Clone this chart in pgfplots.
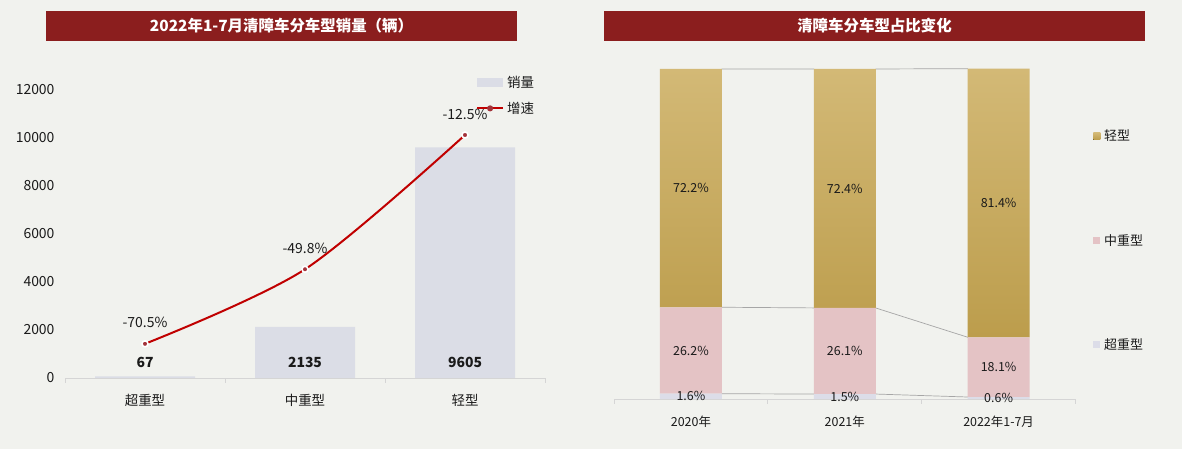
\documentclass[border=0pt]{standalone}
\usepackage{fontspec}
\setmainfont{Noto Sans CJK SC}
\usepackage{pgfplots}
\pgfplotsset{compat=1.18}
\usepackage{pgfplotstable}

\definecolor{bg}{HTML}{F1F2EE}
\definecolor{titlered}{HTML}{8B1E1E}
\definecolor{salesbar}{HTML}{DBDDE6}
\definecolor{growthred}{HTML}{C00000}
\definecolor{dotred}{HTML}{A3333A}
\definecolor{goldtop}{HTML}{D3B976}
\definecolor{goldbot}{HTML}{BC9D4C}
\definecolor{midpink}{HTML}{E4C3C5}
\definecolor{heavylav}{HTML}{DCDDE8}
\definecolor{axisgray}{HTML}{D5D5D5}
\definecolor{labeltext}{HTML}{1A1A1A}
\definecolor{linkgray}{HTML}{A6A6A6}

% 2022 Jan-Jul sales by segment (units)
\pgfplotstableread{
idx v
0 67
1 2135
2 9605
}\salestable

% year-on-year growth (%)
\pgfplotstableread{
idx g
0 -70.5
1 -49.8
2 -12.5
}\growthtable

% segment shares (%)
\pgfplotstableread{
idx super mid light
0 1.6 26.2 72.2
1 1.5 26.1 72.4
2 0.6 18.1 81.4
}\sharetable

\pgfplotsset{
  sqlegend/.style={legend image code/.code={\fill[##1] (0bp,-3.5bp) rectangle (7bp,3.5bp);}},
}

\begin{document}
\begin{tikzpicture}[x=1bp,y=1bp]
\fill[bg] (0,0) rectangle (1182,449);

% ---------- titles ----------
\node[fill=titlered, minimum width=471bp, minimum height=30bp, inner sep=0pt,
      text=white, font=\bfseries\fontsize{15.5}{18}\selectfont]
      at (281.5,423) {2022年1-7月清障车分车型销量（辆）};
\node[fill=titlered, minimum width=541bp, minimum height=30bp, inner sep=0pt,
      text=white, font=\bfseries\fontsize{15.5}{18}\selectfont]
      at (874.5,423) {清障车分车型占比变化};

% ---------- left: sales bars ----------
\begin{axis}[
  at={(65bp,71bp)}, anchor=south west, scale only axis,
  width=480bp, height=288bp,
  xmin=-0.5, xmax=2.5, ymin=0, ymax=12000,
  ybar, bar width=0.625,
  axis x line=bottom, axis y line=left, axis line style={-},
  x axis line style={draw=axisgray, line width=0.8bp},
  y axis line style={draw=none},
  xtick={0,1,2}, xticklabels={超重型,中重型,轻型},
  minor xtick={-0.5,0.5,1.5,2.5},
  major tick length=0pt, minor tick length=5bp, tick align=outside,
  minor x tick style={draw=axisgray, line width=0.8bp},
  ytick={0,2000,...,12000},
  scaled y ticks=false,
  /pgf/number format/assume math mode=true,
  /pgf/number format/1000 sep={},
  yticklabel style={font=\fontsize{14}{16}\selectfont, text=labeltext, xshift=-7bp},
  xticklabel style={font=\fontsize{13.5}{15}\selectfont, text=labeltext, yshift=-13bp},
  clip=false,
]
\addplot[fill=salesbar, draw=none,
  visualization depends on={\thisrow{v} \as \barv},
  nodes near coords={\pgfmathprintnumber[fixed,precision=0,1000 sep={}]{\pgfplotspointmeta}},
  every node near coord/.append style={anchor=center, text=labeltext,
     font=\bfseries\fontsize{14}{16}\selectfont,
     shift={(axis direction cs:0,-\barv)}, yshift=16bp},
] table[x=idx, y=v] {\salestable};
\end{axis}

% ---------- left: growth line (secondary scale) ----------
\begin{axis}[
  at={(65bp,71bp)}, anchor=south west, scale only axis,
  width=480bp, height=288bp,
  xmin=-0.5, xmax=2.5, ymin=-80, ymax=0,
  hide axis, clip=false,
  legend style={at={(0.856,0.981)}, anchor=west, draw=none, fill=none,
     font=\fontsize{13.5}{15}\selectfont, text=labeltext,
     row sep=9bp, inner sep=0pt,
     /tikz/every odd column/.style={column sep=1bp}},
  legend cell align=left,
]
\addlegendimage{legend image code/.code={\fill[salesbar] (0bp,-4bp) rectangle (25bp,4bp);}}
\addlegendentry{销量}
\addplot[smooth, growthred, line width=2bp,
  mark=*, mark size=3bp,
  mark options={fill=dotred, draw=white, line width=1.6bp},
  nodes near coords={\pgfmathprintnumber[fixed,fixed zerofill,precision=1,assume math mode=true]{\pgfplotspointmeta}\%},
  every node near coord/.append style={anchor=center, yshift=21bp, text=labeltext,
     font=\fontsize{14}{16}\selectfont},
  legend image code/.code={
     \draw[growthred, line width=2bp] (0bp,0bp) -- (26bp,0bp);
     \fill[dotred] (13bp,0bp) circle (2bp);},
] table[x=idx, y=g] {\growthtable};
\addlegendentry{增速}
\end{axis}

% ---------- right: series lines between stacked bars ----------
\begin{axis}[
  at={(614bp,50bp)}, anchor=south west, scale only axis,
  width=461.5bp, height=330bp,
  xmin=-0.5, xmax=2.5, ymin=0, ymax=100,
  hide axis, clip=false, unbounded coords=jump,
]
\addplot[linkgray, line width=0.7bp] coordinates {(0.2,1.6) (0.8,1.5) (1,nan) (1.2,1.5) (1.8,0.6)};
\addplot[linkgray, line width=0.7bp] coordinates {(0.2,27.8) (0.8,27.6) (1,nan) (1.2,27.6) (1.8,18.7)};
\addplot[linkgray, line width=0.7bp] coordinates {(0.2,100) (0.8,100) (1,nan) (1.2,100) (1.8,100.1)};
\end{axis}

% ---------- right: stacked shares ----------
\begin{axis}[
  at={(614bp,50bp)}, anchor=south west, scale only axis,
  width=461.5bp, height=330bp,
  xmin=-0.5, xmax=2.5, ymin=0, ymax=100,
  ybar stacked, bar width=0.403,
  axis x line=bottom, axis y line=none, axis line style={-},
  x axis line style={draw=axisgray, line width=0.8bp},
  xtick={0,1,2}, xticklabels={2020年,2021年,2022年1-7月},
  minor xtick={-0.5,0.5,1.5,2.5},
  major tick length=0pt, minor tick length=5bp, tick align=outside,
  minor x tick style={draw=axisgray, line width=0.8bp},
  xticklabel style={font=\fontsize{12.5}{15}\selectfont, text=labeltext, yshift=-13bp},
  clip=false,
  nodes near coords={\pgfmathprintnumber[fixed,fixed zerofill,precision=1,assume math mode=true]{\pgfplotspointmeta}\%},
  every node near coord/.append style={anchor=center, text=labeltext,
     font=\fontsize{12.5}{15}\selectfont},
  legend style={at={(1.038,0.48)}, anchor=west, draw=none, fill=none,
     font=\fontsize{13}{15}\selectfont, text=labeltext,
     row sep=88bp, inner sep=0pt,
     /tikz/every odd column/.style={column sep=2bp}},
  legend cell align=left, reverse legend,
]
\addplot[fill=heavylav, draw=none, sqlegend,
  point meta=explicit] table[x=idx, y=super, meta=super] {\sharetable};
\addlegendentry{超重型}
\addplot[fill=midpink, draw=none, sqlegend,
  point meta=explicit] table[x=idx, y=mid, meta=mid] {\sharetable};
\addlegendentry{中重型}
\addplot[top color=goldtop, bottom color=goldbot, draw=none, sqlegend,
  point meta=explicit] table[x=idx, y=light, meta=light] {\sharetable};
\addlegendentry{轻型}
\end{axis}

\pgfresetboundingbox
\useasboundingbox (0,0) rectangle (1182,449);
\end{tikzpicture}
\end{document}
